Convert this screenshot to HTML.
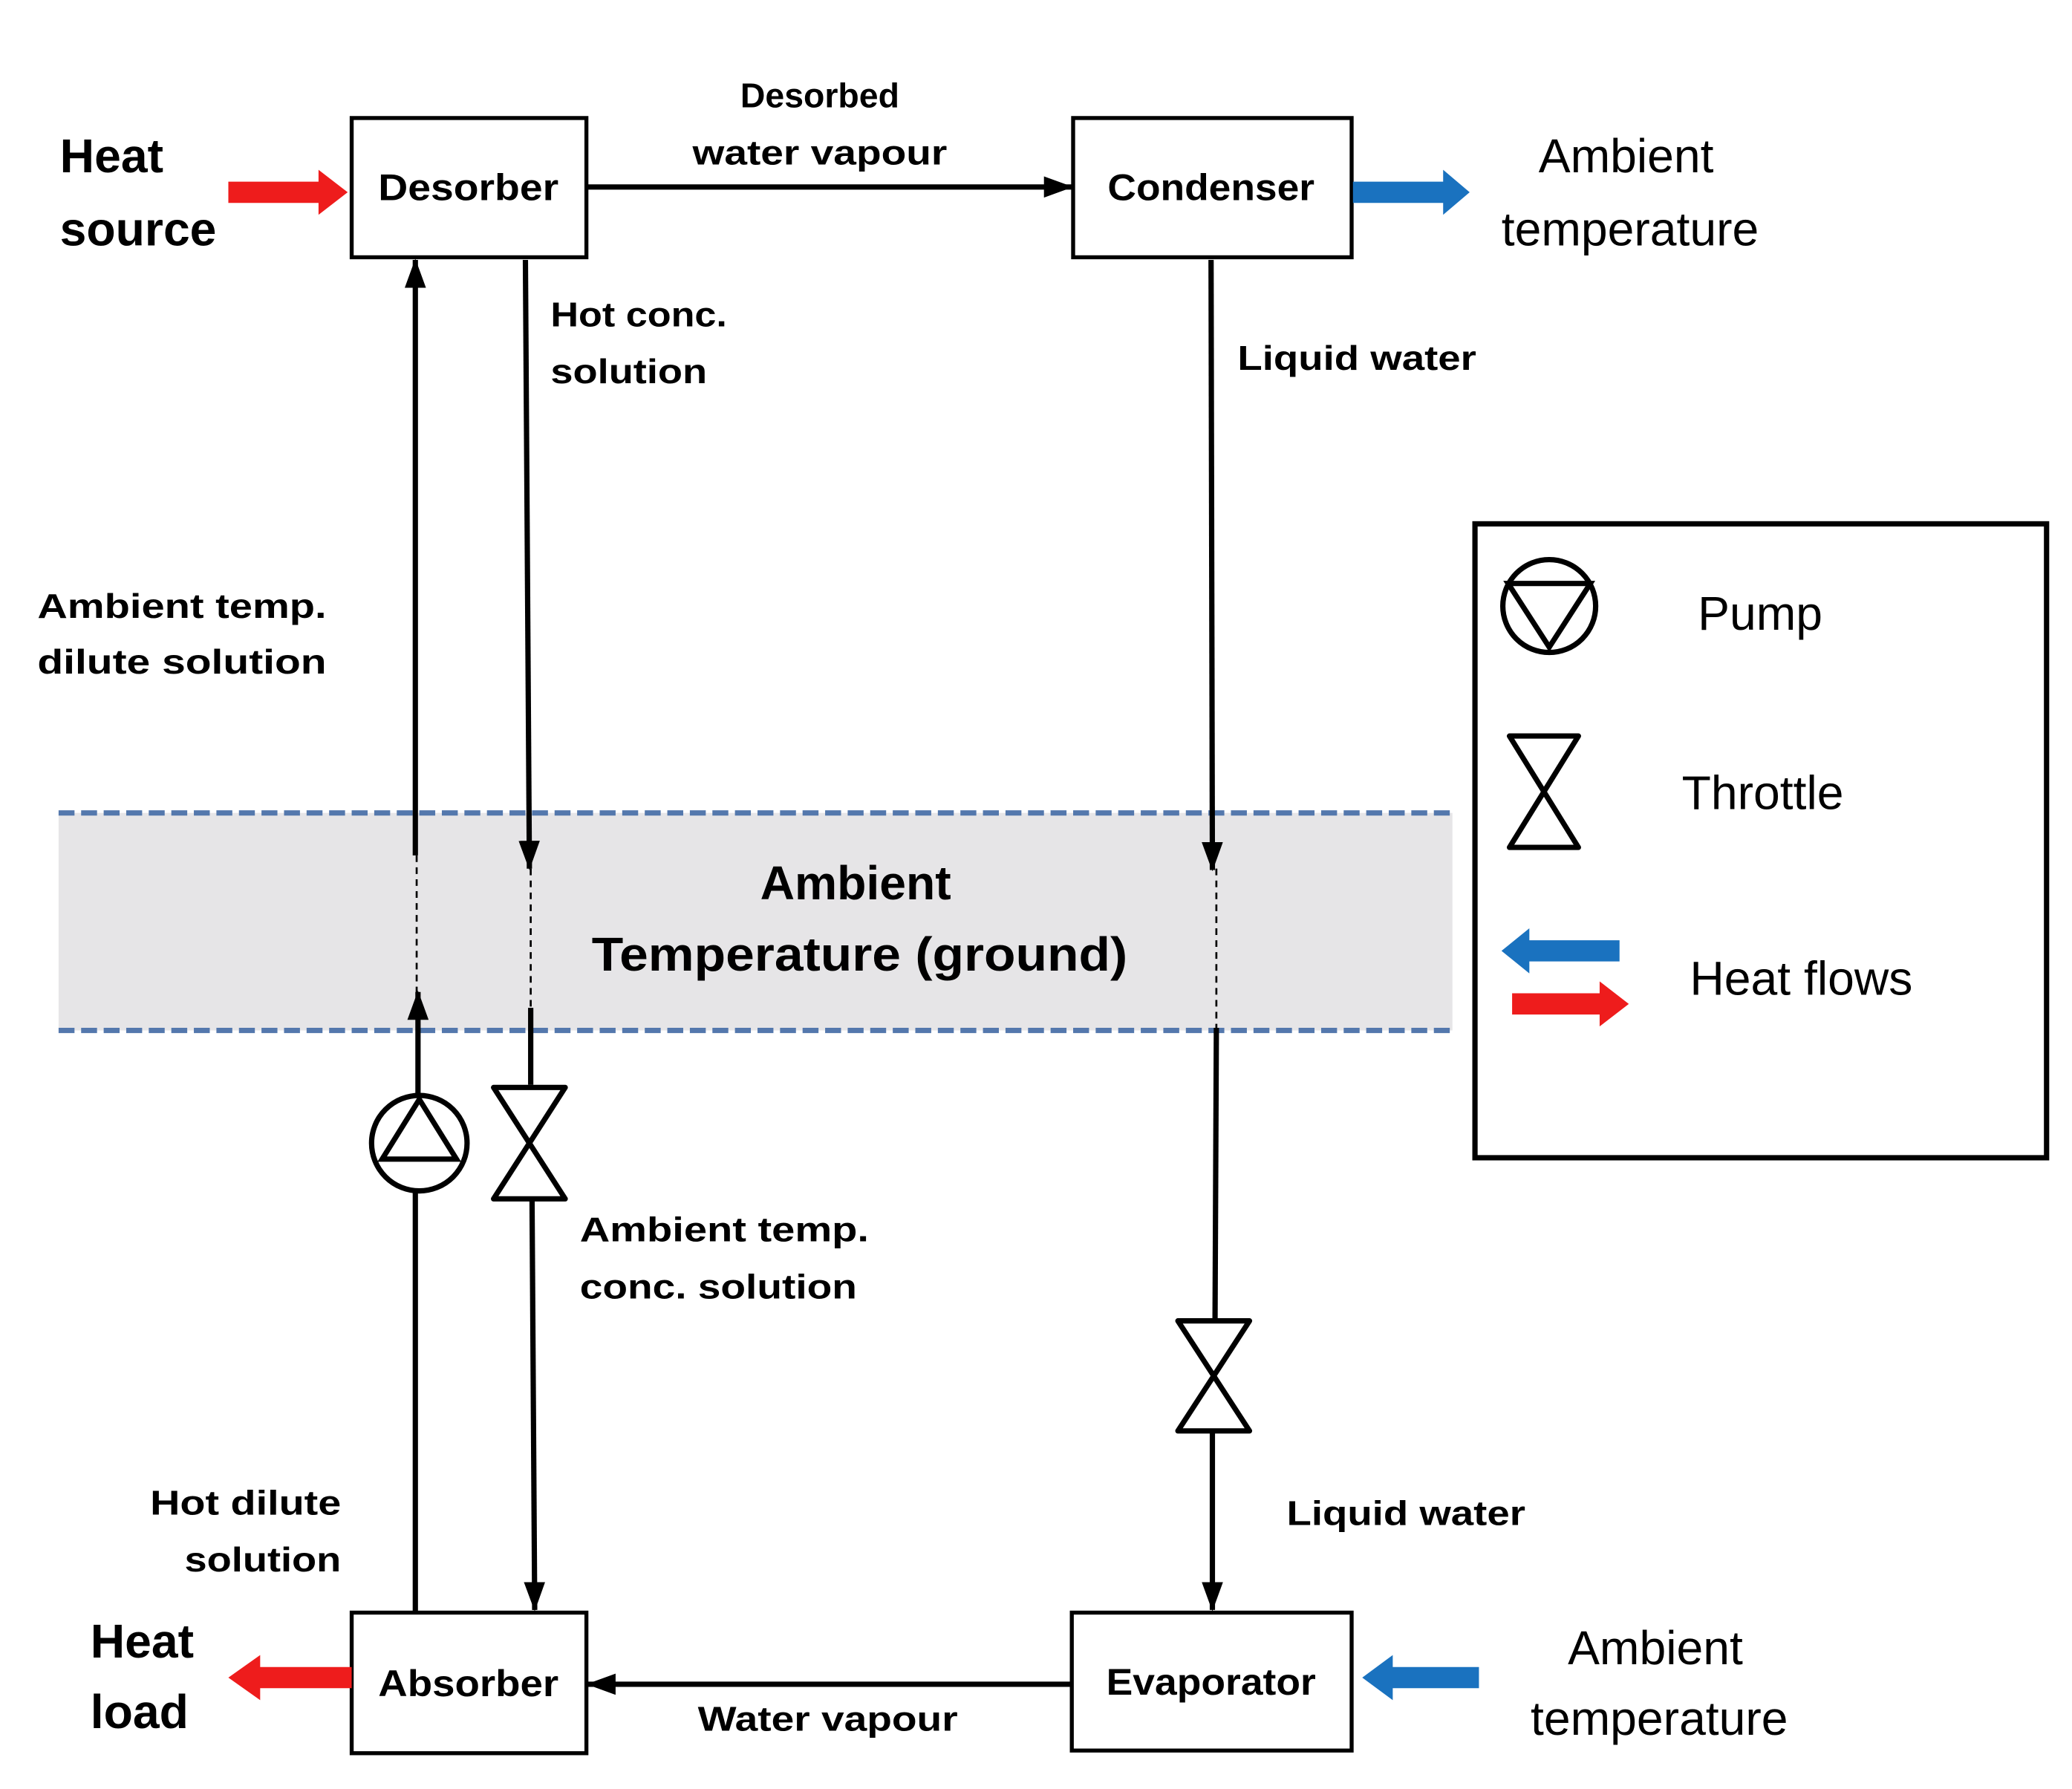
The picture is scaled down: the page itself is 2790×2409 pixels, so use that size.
<!DOCTYPE html>
<html><head><meta charset="utf-8"><style>html,body{margin:0;padding:0;background:#fff}svg{display:block}</style></head>
<body>
<svg width="2790" height="2409" viewBox="0 0 1562 1349" xmlns="http://www.w3.org/2000/svg" font-family="Liberation Sans, sans-serif">
<defs>
<marker id="ah" markerWidth="22" markerHeight="16" refX="21" refY="8" orient="auto" markerUnits="userSpaceOnUse"><path d="M0,0 L22,8 L0,16 z" fill="#000"/></marker>
</defs>
<rect width="1562" height="1349" fill="#fff"/>
<rect x="44" y="613" width="1051" height="164" fill="#e6e5e7"/>
<line x1="44" y1="613" x2="1095" y2="613" stroke="#5478ad" stroke-width="4" stroke-dasharray="12 5"/>
<line x1="44" y1="777" x2="1095" y2="777" stroke="#5478ad" stroke-width="4" stroke-dasharray="12 5"/>
<text x="645" y="678" font-size="36" font-weight="bold" text-anchor="middle">Ambient</text>
<text x="648" y="732" font-size="36" font-weight="bold" text-anchor="middle" textLength="404" lengthAdjust="spacingAndGlyphs">Temperature (ground)</text>

<g fill="#fff" stroke="#000" stroke-width="3">
<rect x="265" y="89" width="177" height="105"/>
<rect x="809" y="89" width="210" height="105"/>
<rect x="265" y="1216" width="177" height="106"/>
<rect x="808" y="1216" width="211" height="104"/>
</g>
<g font-size="28" font-weight="bold" text-anchor="middle">
<text x="353" y="151" textLength="136" lengthAdjust="spacingAndGlyphs">Desorber</text>
<text x="913" y="151" textLength="156" lengthAdjust="spacingAndGlyphs">Condenser</text>
<text x="353" y="1279" textLength="136" lengthAdjust="spacingAndGlyphs">Absorber</text>
<text x="913" y="1278" textLength="158" lengthAdjust="spacingAndGlyphs">Evaporator</text>
</g>

<g stroke="#000" stroke-width="4" fill="none">
<line x1="442" y1="141" x2="808" y2="141" marker-end="url(#ah)"/>
<line x1="808" y1="1270" x2="443" y2="1270" marker-end="url(#ah)"/>
<line x1="313" y1="645" x2="313" y2="196" marker-end="url(#ah)"/>
<line x1="315" y1="825" x2="315" y2="748" marker-end="url(#ah)"/>
<line x1="313" y1="898" x2="313" y2="1215"/>
<line x1="396" y1="196" x2="399" y2="655" marker-end="url(#ah)"/>
<line x1="400" y1="760" x2="400" y2="818"/>
<line x1="401" y1="905" x2="403" y2="1214" marker-end="url(#ah)"/>
<line x1="913" y1="196" x2="914" y2="656" marker-end="url(#ah)"/>
<line x1="917" y1="775" x2="916" y2="995"/>
<line x1="914" y1="1080" x2="914" y2="1214" marker-end="url(#ah)"/>
</g>
<g stroke="#000" stroke-width="1.5" stroke-dasharray="5 4">
<line x1="314" y1="645" x2="314" y2="752"/>
<line x1="400" y1="655" x2="400" y2="760"/>
<line x1="917" y1="655" x2="917" y2="775"/>
</g>
<circle cx="316" cy="862" r="36" fill="#fff" stroke="#000" stroke-width="4"/>
<path d="M316,829 L288,874 L344,874 Z" fill="none" stroke="#000" stroke-width="4"/>
<path d="M372,820 L426,820 L372,904 L426,904 Z" fill="#fff" stroke="#000" stroke-width="4" stroke-linejoin="round"/>
<path d="M888,996 L942,996 L888,1079 L942,1079 Z" fill="#fff" stroke="#000" stroke-width="4" stroke-linejoin="round"/>

<g fill="#ee1c1c">
<path d="M172,137 L240,137 L240,128 L262,145 L240,162 L240,153 L172,153 Z"/>
<path d="M265,1257 L196,1257 L196,1248 L172,1265 L196,1282 L196,1273 L265,1273 Z"/>
<path d="M1140,749 L1206,749 L1206,740 L1228,757 L1206,774 L1206,765 L1140,765 Z"/>
</g>
<g fill="#1a72bf">
<path d="M1020,137 L1088,137 L1088,128 L1108,145 L1088,162 L1088,153 L1020,153 Z"/>
<path d="M1115,1257 L1050,1257 L1050,1248 L1027,1265 L1050,1282 L1050,1273 L1115,1273 Z"/>
<path d="M1221,709 L1153,709 L1153,700 L1132,717 L1153,734 L1153,725 L1221,725 Z"/>
</g>

<g font-size="36" font-weight="bold">
<text x="45" y="130">Heat</text>
<text x="45" y="185">source</text>
<text x="68" y="1250">Heat</text>
<text x="68" y="1303">load</text>
</g>
<g font-size="36" text-anchor="middle">
<text x="1226" y="130">Ambient</text>
<text x="1229" y="185">temperature</text>
<text x="1248" y="1255">Ambient</text>
<text x="1251" y="1308">temperature</text>
</g>
<g font-size="26" font-weight="bold">
<text x="618" y="81" text-anchor="middle">Desorbed</text>
<text x="618" y="124" text-anchor="middle" textLength="192" lengthAdjust="spacingAndGlyphs">water vapour</text>
<text x="415" y="246" textLength="133" lengthAdjust="spacingAndGlyphs">Hot conc.</text>
<text x="415" y="289" textLength="118" lengthAdjust="spacingAndGlyphs">solution</text>
<text x="933" y="279" textLength="180" lengthAdjust="spacingAndGlyphs">Liquid water</text>
<text x="28" y="466" textLength="218" lengthAdjust="spacingAndGlyphs">Ambient temp.</text>
<text x="28" y="508" textLength="218" lengthAdjust="spacingAndGlyphs">dilute  solution</text>
<text x="437" y="936" textLength="218" lengthAdjust="spacingAndGlyphs">Ambient temp.</text>
<text x="437" y="979" textLength="209" lengthAdjust="spacingAndGlyphs">conc.  solution</text>
<text x="257" y="1142" text-anchor="end" textLength="144" lengthAdjust="spacingAndGlyphs">Hot dilute</text>
<text x="257" y="1185" text-anchor="end" textLength="118" lengthAdjust="spacingAndGlyphs">solution</text>
<text x="970" y="1150" textLength="180" lengthAdjust="spacingAndGlyphs">Liquid water</text>
<text x="624" y="1305" text-anchor="middle" textLength="196" lengthAdjust="spacingAndGlyphs">Water vapour</text>
</g>

<rect x="1112" y="395" width="431" height="478" fill="none" stroke="#000" stroke-width="4"/>
<circle cx="1168" cy="457" r="35" fill="none" stroke="#000" stroke-width="4"/>
<path d="M1137,440 L1199,440 L1168,488 Z" fill="none" stroke="#000" stroke-width="4"/>
<path d="M1138,555 L1190,555 L1138,639 L1190,639 Z" fill="none" stroke="#000" stroke-width="4" stroke-linejoin="round"/>
<g font-size="36">
<text x="1280" y="475">Pump</text>
<text x="1268" y="610">Throttle</text>
<text x="1274" y="750">Heat flows</text>
</g>
</svg>
</body></html>
